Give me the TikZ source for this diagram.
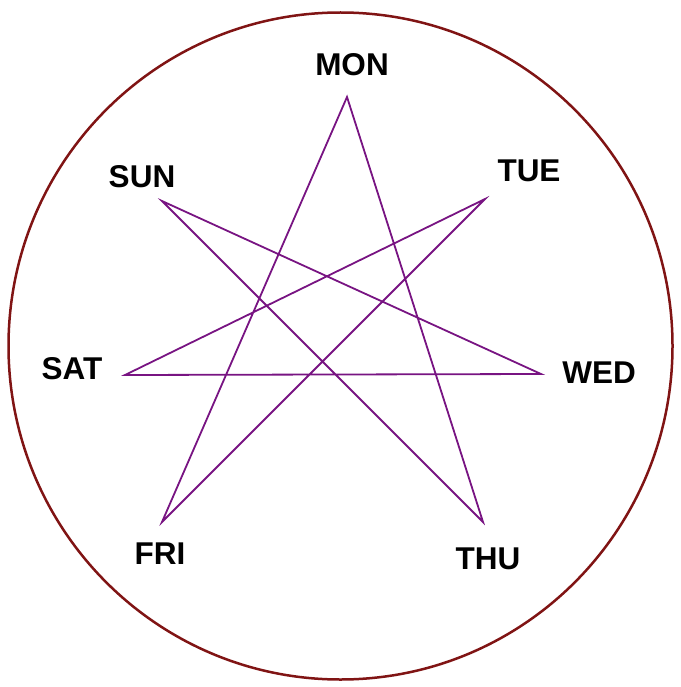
\documentclass[tikz,border=0pt]{standalone}
\usepackage{fontspec}
\setmainfont{Liberation Sans}
\definecolor{ringred}{RGB}{128,20,20}
\definecolor{starpurple}{RGB}{120,20,130}
\begin{document}
\begin{tikzpicture}[x=1pt,y=-1pt,
  lbl/.style={font=\fontsize{31.5}{33}\selectfont\bfseries, inner sep=0pt},
  edge/.style={draw=starpurple, line width=1.8pt, line join=miter}]
\useasboundingbox (0,0) rectangle (680,687);
\draw[ringred, line width=2.5pt] (340.5,346) ellipse [x radius=332, y radius=333.5];
\coordinate (mon) at (347,97);
\coordinate (tue) at (485,199);
\coordinate (wed) at (541,374);
\coordinate (thu) at (483,522);
\coordinate (fri) at (162,522);
\coordinate (sat) at (125,375);
\coordinate (sun) at (162,201);
\draw[edge] (mon) -- (thu) -- (sun) -- (wed) -- (sat) -- (tue) -- (fri) -- cycle;
\node[lbl] (lmon) at (352,65) {MON};
\node[lbl] (ltue) at (529,171) {TUE};
\node[lbl] (lwed) at (599,373) {WED};
\node[lbl] (lthu) at (488,559) {THU};
\node[lbl] (lfri) at (160,554) {FRI};
\node[lbl] (lsat) at (72,369) {SAT};
\node[lbl] (lsun) at (142,177) {SUN};
\end{tikzpicture}
\end{document}
